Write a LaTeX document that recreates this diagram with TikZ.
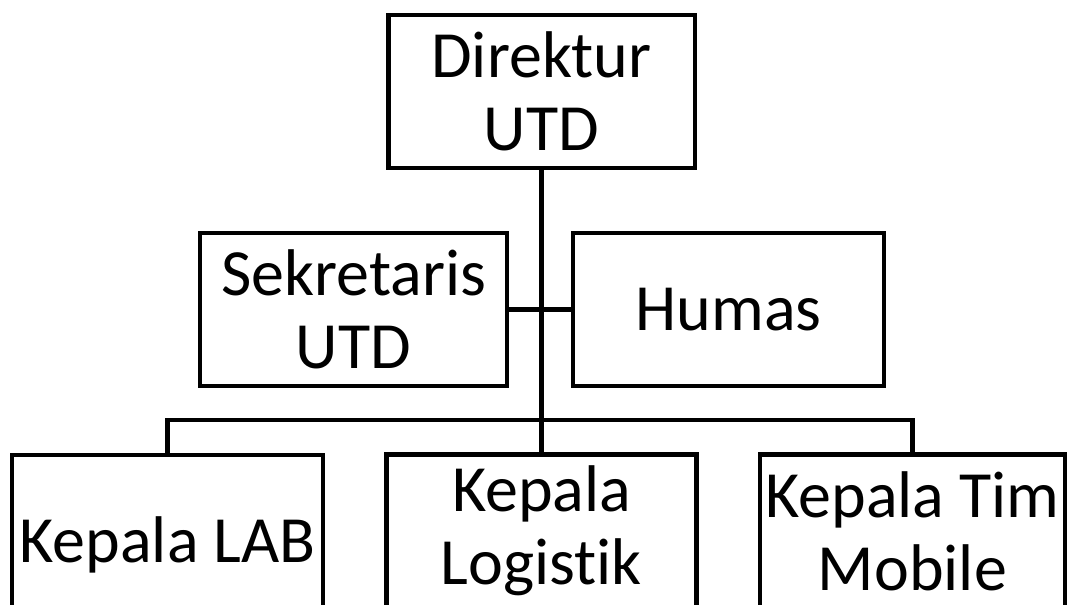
\documentclass[tikz,border=0pt]{standalone}
\usepackage{fontspec}
\setmainfont{Carlito}[Ligatures=NoCommon]
\usetikzlibrary{positioning,calc}

\begin{document}
\begin{tikzpicture}[x=0.75pt, y=-0.75pt,
    unit/.style={draw=black, line width=3.5pt, inner sep=0pt, align=center,
      font=\fontsize{49.5}{55}\selectfont, minimum height=114.75pt},
    conn/.style={line width=3.5pt, black}]

    % Frame
    \useasboundingbox (0,0) rectangle (1068,605);
    \clip (0,0) rectangle (1068,605);

    % Top
    \node[unit, minimum width=230pt] (dir) at (541.5,91.5) {Direktur\\UTD};

    % Staff
    \node[unit, minimum width=230.25pt] (sek) at (353.5,309.5) {Sekretaris\\UTD};
    \node[unit, minimum width=233.25pt] (hum) at (728.5,309.5) {Humas};

    % Heads
    \node[unit, minimum width=233.25pt, minimum height=135pt] (lab) at (167.5,545) {Kepala LAB};
    \node[unit, minimum width=232.5pt, minimum height=115pt] (log) at (541.5,531) {Kepala\\Logistik};
    \node[unit, minimum width=228.75pt, minimum height=115pt] (mob) at (912.5,531) {Kepala Tim\\Mobile};

    % Lines
    \coordinate (bus) at (541.5,420);
    \draw[conn] (dir) -- (log);
    \draw[conn] (sek) -- (hum);
    \draw[conn] (lab.north) |- (bus) -| (mob.north);
\end{tikzpicture}
\end{document}
